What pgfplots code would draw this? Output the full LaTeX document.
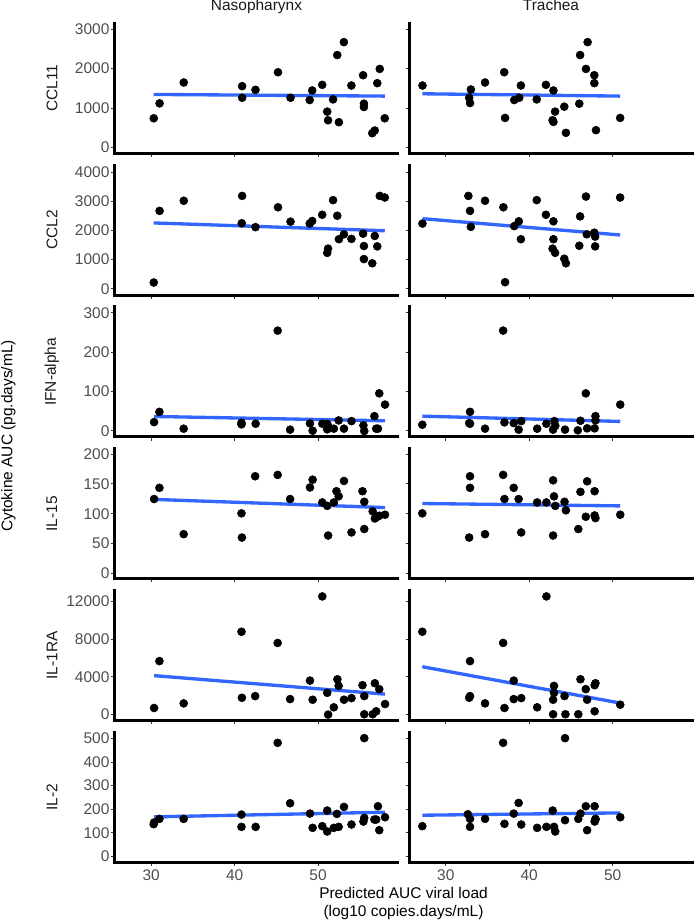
\documentclass[border=0pt]{standalone}
\usepackage{pgfplots}
\pgfplotsset{compat=1.18}
\usepackage{fontspec}
\setmainfont{Liberation Sans}
\definecolor{labgray}{HTML}{4D4D4D}
\definecolor{tickgray}{HTML}{333333}
\definecolor{smoothblue}{HTML}{3366FF}
\definecolor{stripcol}{HTML}{1A1A1A}
\newcommand\tl{\fontsize{11.6}{13}\selectfont}
\pgfplotsset{
  panel/.style={
    scale only axis, width=212.25pt, height=97.5pt,
    anchor=north west,
    xmin=25.62, xmax=59.55,
    axis x line*=bottom, axis y line*=left,
    axis line style={-, line width=2.2pt, black, line cap=rect},
    xtick={30,40,50},
    scaled x ticks=false, scaled y ticks=false,
    tick align=outside, major tick length=2.8pt,
    tick style={color=tickgray, line width=0.75pt},
    ticklabel style={font=\tl, text=labgray},
    yticklabel style={inner xsep=1pt},
    xticklabel style={inner ysep=2.5pt},
    minor tick num=0,
  },
  pts/.style={only marks, mark=*, mark size=3pt, black, mark options={draw=black, fill=black}},
  fit/.style={no marks, smoothblue, line width=2.5pt},
}
\begin{document}
\begin{tikzpicture}
\useasboundingbox (0,0) rectangle (519.75pt,-690.75pt);
% ---------- Row 1: CCL11 ----------
\begin{axis}[panel, at={(114.7*0.75pt,-23.3*0.75pt)}, ymin=-150, ymax=3150,
  ytick={0,1000,2000,3000}, yticklabels={0,1000,2000,3000}, xticklabels={}]
\addplot[pts] table {
x y
30.3 739
31.0 1118
33.9 1647
40.9 1555
40.9 1260
42.5 1462
45.2 1908
46.7 1260
49.0 1202
49.3 1445
50.5 1588
51.1 908
51.2 689
51.8 1218
52.3 2344
52.5 639
53.1 2672
54.0 1571
55.4 1832
55.5 1109
55.5 1025
56.5 361
56.8 429
57.1 1630
57.4 1992
58.0 739
};
\addplot[fit] coordinates {(30.3,1344) (58.0,1302)};
\end{axis}
\begin{axis}[panel, at={(409.3*0.75pt,-23.3*0.75pt)}, ymin=-150, ymax=3150,
  ytick={0,1000,2000,3000}, yticklabels={}, xticklabels={}]
\addplot[pts] table {
x y
27.2 1571
33.0 1470
32.8 1260
32.9 1126
34.7 1647
37.0 1908
37.1 748
38.2 1202
38.8 1260
39.0 1571
40.9 1218
42.0 1588
42.9 1445
43.1 908
42.8 689
42.9 647
44.2 1034
44.4 370
46.0 1109
46.1 2344
46.8 1992
47.0 2672
47.8 1832
47.8 1630
48.0 437
50.9 748
};
\addplot[fit] coordinates {(27.2,1361) (50.9,1302)};
\end{axis}
% ---------- Row 2: CCL2 ----------
\begin{axis}[panel, at={(114.7*0.75pt,-165.1*0.75pt)}, ymin=-220, ymax=4240,
  ytick={0,1000,2000,3000,4000}, yticklabels={0,1000,2000,3000,4000}, xticklabels={}]
\addplot[pts] table {
x y
30.3 212
31.0 2670
33.9 3016
40.9 3183
40.85 2245
42.5 2111
45.2 2793
46.7 2301
49.0 2234
49.3 2323
50.5 2536
51.1 1229
51.2 1374
51.8 3038
52.3 2502
52.5 1698
53.1 1865
54.0 1709
55.4 1888
55.5 1463
55.5 1016
56.5 871
56.8 1810
57.1 1452
57.4 3183
58.0 3128
};
\addplot[fit] coordinates {(30.3,2256) (58.0,1988)};
\end{axis}
\begin{axis}[panel, at={(409.3*0.75pt,-165.1*0.75pt)}, ymin=-220, ymax=4240,
  ytick={0,1000,2000,3000,4000}, yticklabels={}, xticklabels={}]
\addplot[pts] table {
x y
27.2 2234
32.7 3183
32.9 2670
33.0 2122
34.7 3016
36.9 2793
37.1 223
38.2 2145
38.75 2312
39.0 1698
40.9 3038
42.0 2536
42.9 2312
42.9 1698
42.8 1374
43.1 1229
44.2 1028
44.4 871
46.0 1474
46.1 2480
46.8 3161
46.9 1865
47.8 1921
47.9 1787
47.9 1452
50.9 3128
};
\addplot[fit] coordinates {(27.2,2402) (50.9,1843)};
\end{axis}
% ---------- Row 3: IFN-alpha ----------
\begin{axis}[panel, at={(114.7*0.75pt,-306.9*0.75pt)}, ymin=-15, ymax=315,
  ytick={0,100,200,300}, yticklabels={0,100,200,300}, xticklabels={}]
\addplot[pts] table {
x y
30.34 22.6
30.98 48.6
33.89 5.9
40.82 16.8
40.82 21
42.52 18.4
45.16 254.8
46.65 3.4
49.03 19.3
49.35 0.8
50.51 18.4
51.10 4.2
51.10 18
51.26 10.9
51.89 5.9
52.47 26.8
53.11 5.9
54.01 25.1
55.44 14.2
55.54 0
56.76 37.7
56.97 5.9
57.18 5.9
57.34 95.5
58.03 67
};
\addplot[fit] coordinates {(30.34,36.9) (58.03,26)};
\end{axis}
\begin{axis}[panel, at={(409.3*0.75pt,-306.9*0.75pt)}, ymin=-15, ymax=315,
  ytick={0,100,200,300}, yticklabels={}, xticklabels={}]
\addplot[pts] table {
x y
27.18 15.9
32.90 48.6
32.80 20.1
32.90 18.4
34.70 5.9
36.87 254.8
37.03 21.8
38.14 20.1
38.73 3.4
39.04 25.1
40.95 5.9
42.06 18.4
42.86 3.4
43.02 25.1
43.12 13.4
44.29 3.4
45.82 1.7
46.14 26
46.78 95.5
46.94 6.7
47.84 6.7
47.94 37.7
47.94 26.8
50.91 67
};
\addplot[fit] coordinates {(27.18,37.7) (50.91,24.3)};
\end{axis}
% ---------- Row 4: IL-15 ----------
\begin{axis}[panel, at={(114.7*0.75pt,-448.7*0.75pt)}, ymin=-9, ymax=209,
  ytick={0,50,100,150,200}, yticklabels={0,50,100,150,200}, xticklabels={}]
\addplot[pts] table {
x y
30.34 124.6
30.98 143.4
33.89 65.7
40.82 100.6
40.87 60
42.46 162.8
45.16 165.1
46.65 124.6
49.03 144
49.35 157.1
50.51 118.9
51.10 113.1
51.21 63.4
51.89 118.9
52.21 137.7
52.47 129.1
53.11 154.9
54.01 68.6
55.33 137.7
55.54 120
55.54 74.3
56.55 104
56.81 92
57.18 95.4
57.34 96.6
58.03 98.3
};
\addplot[fit] coordinates {(30.34,124) (58.03,110.3)};
\end{axis}
\begin{axis}[panel, at={(409.3*0.75pt,-448.7*0.75pt)}, ymin=-9, ymax=209,
  ytick={0,50,100,150,200}, yticklabels={}, xticklabels={}]
\addplot[pts] table {
x y
27.18 100.6
32.90 162.8
32.90 143.4
32.80 60
34.70 65.7
36.87 165.1
37.03 124.6
38.14 143.4
38.73 124.6
39.04 68.6
40.95 118.9
42.06 118.9
42.86 156
42.97 129.1
43.12 113.1
42.86 63.4
44.23 120
44.39 105.7
45.88 74.3
46.14 136.6
46.78 94.9
46.94 154.3
47.84 137.7
47.84 97.1
47.94 92.6
50.91 98.3
};
\addplot[fit] coordinates {(27.18,117.1) (50.91,113.1)};
\end{axis}
% ---------- Row 5: IL-1RA ----------
\begin{axis}[panel, at={(114.7*0.75pt,-590.5*0.75pt)}, ymin=-626, ymax=13152,
  ytick={0,4000,8000,12000}, yticklabels={0,4000,8000,12000}, xticklabels={}]
\addplot[pts] table {
x y
30.34 700
30.98 5668
33.89 1190
40.82 8782
40.87 1785
42.46 1960
45.16 7593
46.65 1645
49.03 3604
49.35 1575
50.51 12526
51.10 2309
51.21 0
51.89 770
52.32 3744
52.47 3044
53.11 1575
54.01 1750
55.33 3114
55.54 1960
55.54 35
56.55 35
56.81 3324
56.97 350
57.34 2694
58.03 1120
};
\addplot[fit] coordinates {(30.34,4130) (58.03,2170)};
\end{axis}
\begin{axis}[panel, at={(409.3*0.75pt,-590.5*0.75pt)}, ymin=-626, ymax=13152,
  ytick={0,4000,8000,12000}, yticklabels={}, xticklabels={}]
\addplot[pts] table {
x y
27.18 8782
32.80 1785
32.90 1960
32.90 5668
34.70 1190
36.87 7593
37.03 700
38.14 1645
38.14 3604
39.04 1750
40.95 770
42.06 12526
42.86 35
42.97 3044
42.97 2309
42.86 1575
44.23 1960
44.34 35
45.88 35
46.14 3744
46.78 2694
46.94 1575
47.84 350
47.84 3114
47.94 3324
50.91 1050
};
\addplot[fit] coordinates {(27.18,5075) (50.91,1225)};
\end{axis}
% ---------- Row 6: IL-2 ----------
\begin{axis}[panel, at={(114.7*0.75pt,-732.3*0.75pt)}, ymin=-25, ymax=526,
  ytick={0,100,200,300,400,500}, yticklabels={0,100,200,300,400,500},
  xticklabels={30,40,50}]
\addplot[pts] table {
x y
30.29 136.6
30.34 143.6
30.98 159.1
33.89 159.1
40.82 177.4
40.82 125.3
42.52 125.3
45.16 481.5
46.65 225.3
49.03 181.6
49.35 121.1
50.51 128.1
51.10 194.3
51.10 105.6
51.89 121.1
52.26 180.2
52.47 125.3
53.11 209.8
54.01 135.2
55.44 147.8
55.54 501.2
55.54 163.3
56.76 156.3
56.97 156.3
57.18 212.6
57.34 111.2
58.03 166.1
};
\addplot[fit] coordinates {(30.34,167.6) (58.03,187.3)};
\end{axis}
\begin{axis}[panel, at={(409.3*0.75pt,-732.3*0.75pt)}, ymin=-25, ymax=526,
  ytick={0,100,200,300,400,500}, yticklabels={},
  xticklabels={30,40,50}]
\addplot[pts] table {
x y
27.18 128.1
32.64 178.8
32.90 159.1
32.90 125.3
34.70 159.1
36.87 481.5
37.03 138
38.73 226.7
38.14 181.6
39.04 135.2
40.95 121.1
42.06 125.3
42.81 194.3
42.97 125.3
43.12 105.6
44.29 153.5
44.29 501.2
45.88 159.1
46.14 181.6
46.78 212.6
46.94 111.2
47.84 212.6
47.84 147.8
47.94 159.1
47.94 156.3
50.91 166.1
};
\addplot[fit] coordinates {(27.18,174.6) (50.91,184.4)};
\end{axis}
% ---------- Texts ----------
\node[anchor=base, text=stripcol, font=\tl, inner sep=0pt] at (256.5*0.75pt,-10.7*0.75pt) {Nasopharynx};
\node[anchor=base, text=stripcol, font=\tl, inner sep=0pt] at (551*0.75pt,-10.7*0.75pt) {Trachea};
\foreach \yy/\lab in {88.3/CCL11, 230.1/CCL2, 371.9/IFN-alpha, 513.7/IL-15, 655.5/IL-1RA, 797.3/IL-2}{
  \node[rotate=90, text=stripcol, font=\tl, inner sep=0pt] at (52*0.75pt,-\yy*0.75pt) {\lab};
}
\node[rotate=90, font=\tl, inner sep=0pt] at (8.5*0.75pt,-436*0.75pt) {Cytokine AUC (pg.days/mL)};
\node[anchor=base, font=\tl, inner sep=0pt] at (403.5*0.75pt,-898*0.75pt) {Predicted AUC viral load};
\node[anchor=base, font=\tl, inner sep=0pt] at (403.5*0.75pt,-916*0.75pt) {(log10 copies.days/mL)};
\end{tikzpicture}
\end{document}
